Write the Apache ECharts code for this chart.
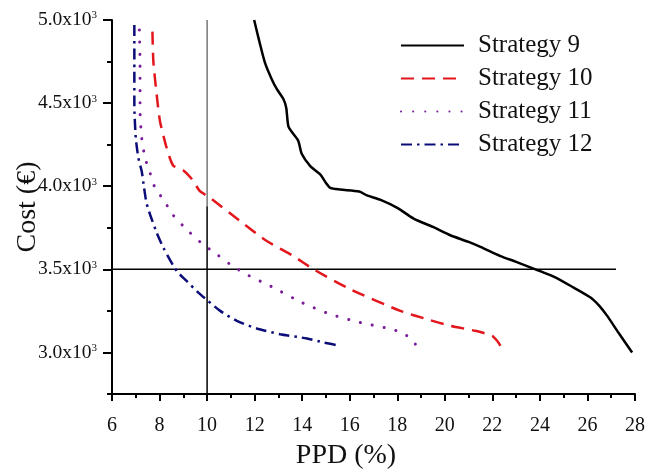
<!DOCTYPE html>
<html>
<head>
<meta charset="utf-8">
<script src="https://cdn.jsdelivr.net/npm/echarts@6/dist/echarts.min.js"></script>
<style>
  html, body { margin: 0; padding: 0; background: #fff; }
  #chart { width: 647px; height: 476px; }
</style>
</head>
<body>
<div id="chart"></div>
<script>
// PPD (%) versus cost (€) for each strategy, as [ppd, cost] pairs
const strategy9 = [
  [11.98, 5000], [12.2, 4870], [12.44, 4740], [12.7, 4650], [12.93, 4585], [13.21, 4525],
  [13.33, 4470], [13.42, 4360], [13.6, 4320], [13.84, 4271], [13.98, 4195], [14.34, 4121],
  [14.76, 4071], [15.0, 4020], [15.18, 3990], [15.6, 3980], [16.4, 3968], [16.72, 3945],
  [17.3, 3918], [18.0, 3870], [18.69, 3805], [19.5, 3755], [20.23, 3705], [21.0, 3665],
  [21.5, 3635], [22.34, 3580], [23.0, 3545], [23.81, 3500], [24.6, 3455], [25.42, 3390],
  [26.13, 3330], [26.5, 3280], [26.83, 3220], [27.3, 3120], [27.88, 3000]
];
const strategy10 = [
  [7.7, 4930], [7.74, 4750], [7.88, 4550], [8.02, 4390], [8.3, 4230], [8.57, 4125],
  [9.0, 4095], [9.37, 4041], [9.7, 3970], [10.13, 3930], [11.39, 3790], [12.51, 3670],
  [13.63, 3580], [14.48, 3500], [16.02, 3380], [18.13, 3250], [19.25, 3200], [20.23, 3160],
  [21.28, 3130], [21.99, 3100], [22.2, 3070], [22.34, 3040]
];
const strategy11 = [
  [7.15, 4940], [7.18, 4730], [7.18, 4450], [7.25, 4290], [7.39, 4170], [7.6, 4080],
  [7.81, 3990], [8.16, 3920], [8.58, 3825], [9.21, 3730], [9.78, 3656], [10.41, 3590],
  [10.97, 3530], [11.6, 3474], [12.79, 3390], [13.99, 3300], [15.18, 3230], [16.44, 3180],
  [17.63, 3144], [18.2, 3120], [18.5, 3090], [18.76, 3050]
];
const strategy12 = [
  [6.94, 4970], [6.94, 4700], [6.94, 4490], [7.0, 4290], [7.11, 4170], [7.25, 4090],
  [7.35, 3990], [7.45, 3900], [7.6, 3830], [7.88, 3720], [8.16, 3630], [8.72, 3490],
  [9.14, 3430], [9.63, 3360], [9.99, 3316], [10.55, 3250], [11.25, 3190], [12.09, 3144],
  [13.07, 3110], [14.2, 3084], [14.9, 3060], [15.6, 3040]
];

const seriesNames = ['Strategy 9', 'Strategy 10', 'Strategy 11', 'Strategy 12'];

// axis ranges and tick positions
const ppdRange = [6, 28];
const ppdStep = 2;
const costRange = [2750, 5000];
const costMajorTicks = [3000, 3500, 4000, 4500, 5000];
const costMinorTicks = [2750, 3250, 3750, 4250, 4750];

// reference thresholds
const refPPD = 10;
const refCost = 3500;
const refCostLineEnd = 27.2;
const refPPDBreak = 3880;

const serif = 'Liberation Serif';
const chart = echarts.init(document.getElementById('chart'), null, { renderer: 'canvas' });

const costAxisBase = {
  type: 'value',
  min: costRange[0],
  max: costRange[1],
  interval: 250,
  splitLine: { show: false },
  axisLine: { show: false }
};

chart.setOption({
  backgroundColor: '#fff',
  animation: false,
  textStyle: { fontFamily: serif, color: '#111' },
  grid: { left: 112, right: 12, top: 20, bottom: 82, outerBoundsMode: 'none' },
  legend: {
    data: seriesNames,
    orient: 'vertical',
    left: 400,
    top: 33,
    padding: 0,
    itemWidth: 63,
    itemHeight: 14,
    itemGap: 8,
    itemStyle: { opacity: 0 },
    textStyle: { fontFamily: serif, fontSize: 25, color: '#111', lineHeight: 25, padding: [0, 0, 0, 9] }
  },
  xAxis: {
    type: 'value',
    min: ppdRange[0],
    max: ppdRange[1],
    interval: ppdStep,
    name: 'PPD (%)',
    nameLocation: 'middle',
    nameGap: 48,
    nameMoveOverlap: false,
    nameTextStyle: { fontFamily: serif, fontSize: 28, color: '#111', padding: [0, 55, 0, 0] },
    splitLine: { show: false },
    axisLine: { onZero: false, lineStyle: { color: '#000', width: 2 } },
    axisTick: { inside: false, length: 7, lineStyle: { color: '#000', width: 2 } },
    minorTick: { show: true, splitNumber: 2, length: 4, lineStyle: { color: '#000', width: 2 } },
    axisLabel: { fontFamily: serif, fontSize: 20, color: '#111', margin: 22 }
  },
  yAxis: [
    Object.assign({}, costAxisBase, {
      name: 'Cost (€)',
      nameLocation: 'middle',
      nameGap: 70,
      nameMoveOverlap: false,
      nameTextStyle: { fontFamily: serif, fontSize: 28, color: '#111' },
      axisLine: { show: true, onZero: false, lineStyle: { color: '#000', width: 2 } },
      axisTick: { customValues: costMajorTicks, length: 9, lineStyle: { color: '#000', width: 2 } },
      axisLabel: {
        customValues: costMajorTicks,
        margin: 15,
        formatter: v => `{m|${(v / 1000).toFixed(1)}x10}{s|3}`,
        rich: {
          m: { fontFamily: serif, fontSize: 19.5, color: '#111', lineHeight: 20 },
          s: { fontFamily: serif, fontSize: 11, color: '#111', verticalAlign: 'top', lineHeight: 20 }
        }
      }
    }),
    Object.assign({}, costAxisBase, {
      position: 'left',
      axisTick: { customValues: costMinorTicks, length: 5, lineStyle: { color: '#000', width: 2 } },
      axisLabel: { show: false }
    })
  ],
  series: [
    {
      name: seriesNames[0], type: 'line', data: strategy9, showSymbol: false, symbol: 'none', smooth: 0.25,
      lineStyle: { color: '#000', width: 2.5 }, itemStyle: { color: '#000' }, z: 5
    },
    {
      name: seriesNames[1], type: 'line', data: strategy10, showSymbol: false, symbol: 'none', smooth: 0.2,
      lineStyle: { color: '#e3161c', width: 2.5, type: [13, 8] }, itemStyle: { color: '#e3161c' }, z: 5
    },
    {
      name: seriesNames[2], type: 'line', data: strategy11, showSymbol: false, symbol: 'none', smooth: 0.2,
      lineStyle: { color: '#7a1b9a', width: 3, type: [0.1, 12], cap: 'round' }, itemStyle: { color: '#7a1b9a' }, z: 5
    },
    {
      name: seriesNames[3], type: 'line', data: strategy12, showSymbol: false, symbol: 'none', smooth: 0.2,
      lineStyle: { color: '#0b0c78', width: 2.5, type: [11, 5, 2.5, 5] }, itemStyle: { color: '#0b0c78' }, z: 5
    },
    {
      name: 'ref-cost', type: 'line', symbol: 'none', silent: true,
      data: [[ppdRange[0], refCost], [refCostLineEnd, refCost]],
      lineStyle: { color: '#000', width: 1.5 }, z: 3
    },
    {
      name: 'ref-ppd-upper', type: 'line', symbol: 'none', silent: true,
      data: [[refPPD, costRange[1]], [refPPD, refPPDBreak]],
      lineStyle: { color: '#333', width: 1 }, z: 3
    },
    {
      name: 'ref-ppd-lower', type: 'line', symbol: 'none', silent: true,
      data: [[refPPD, refPPDBreak], [refPPD, costRange[0]]],
      lineStyle: { color: '#000', width: 1.5 }, z: 3
    }
  ]
});
</script>
</body>
</html>
